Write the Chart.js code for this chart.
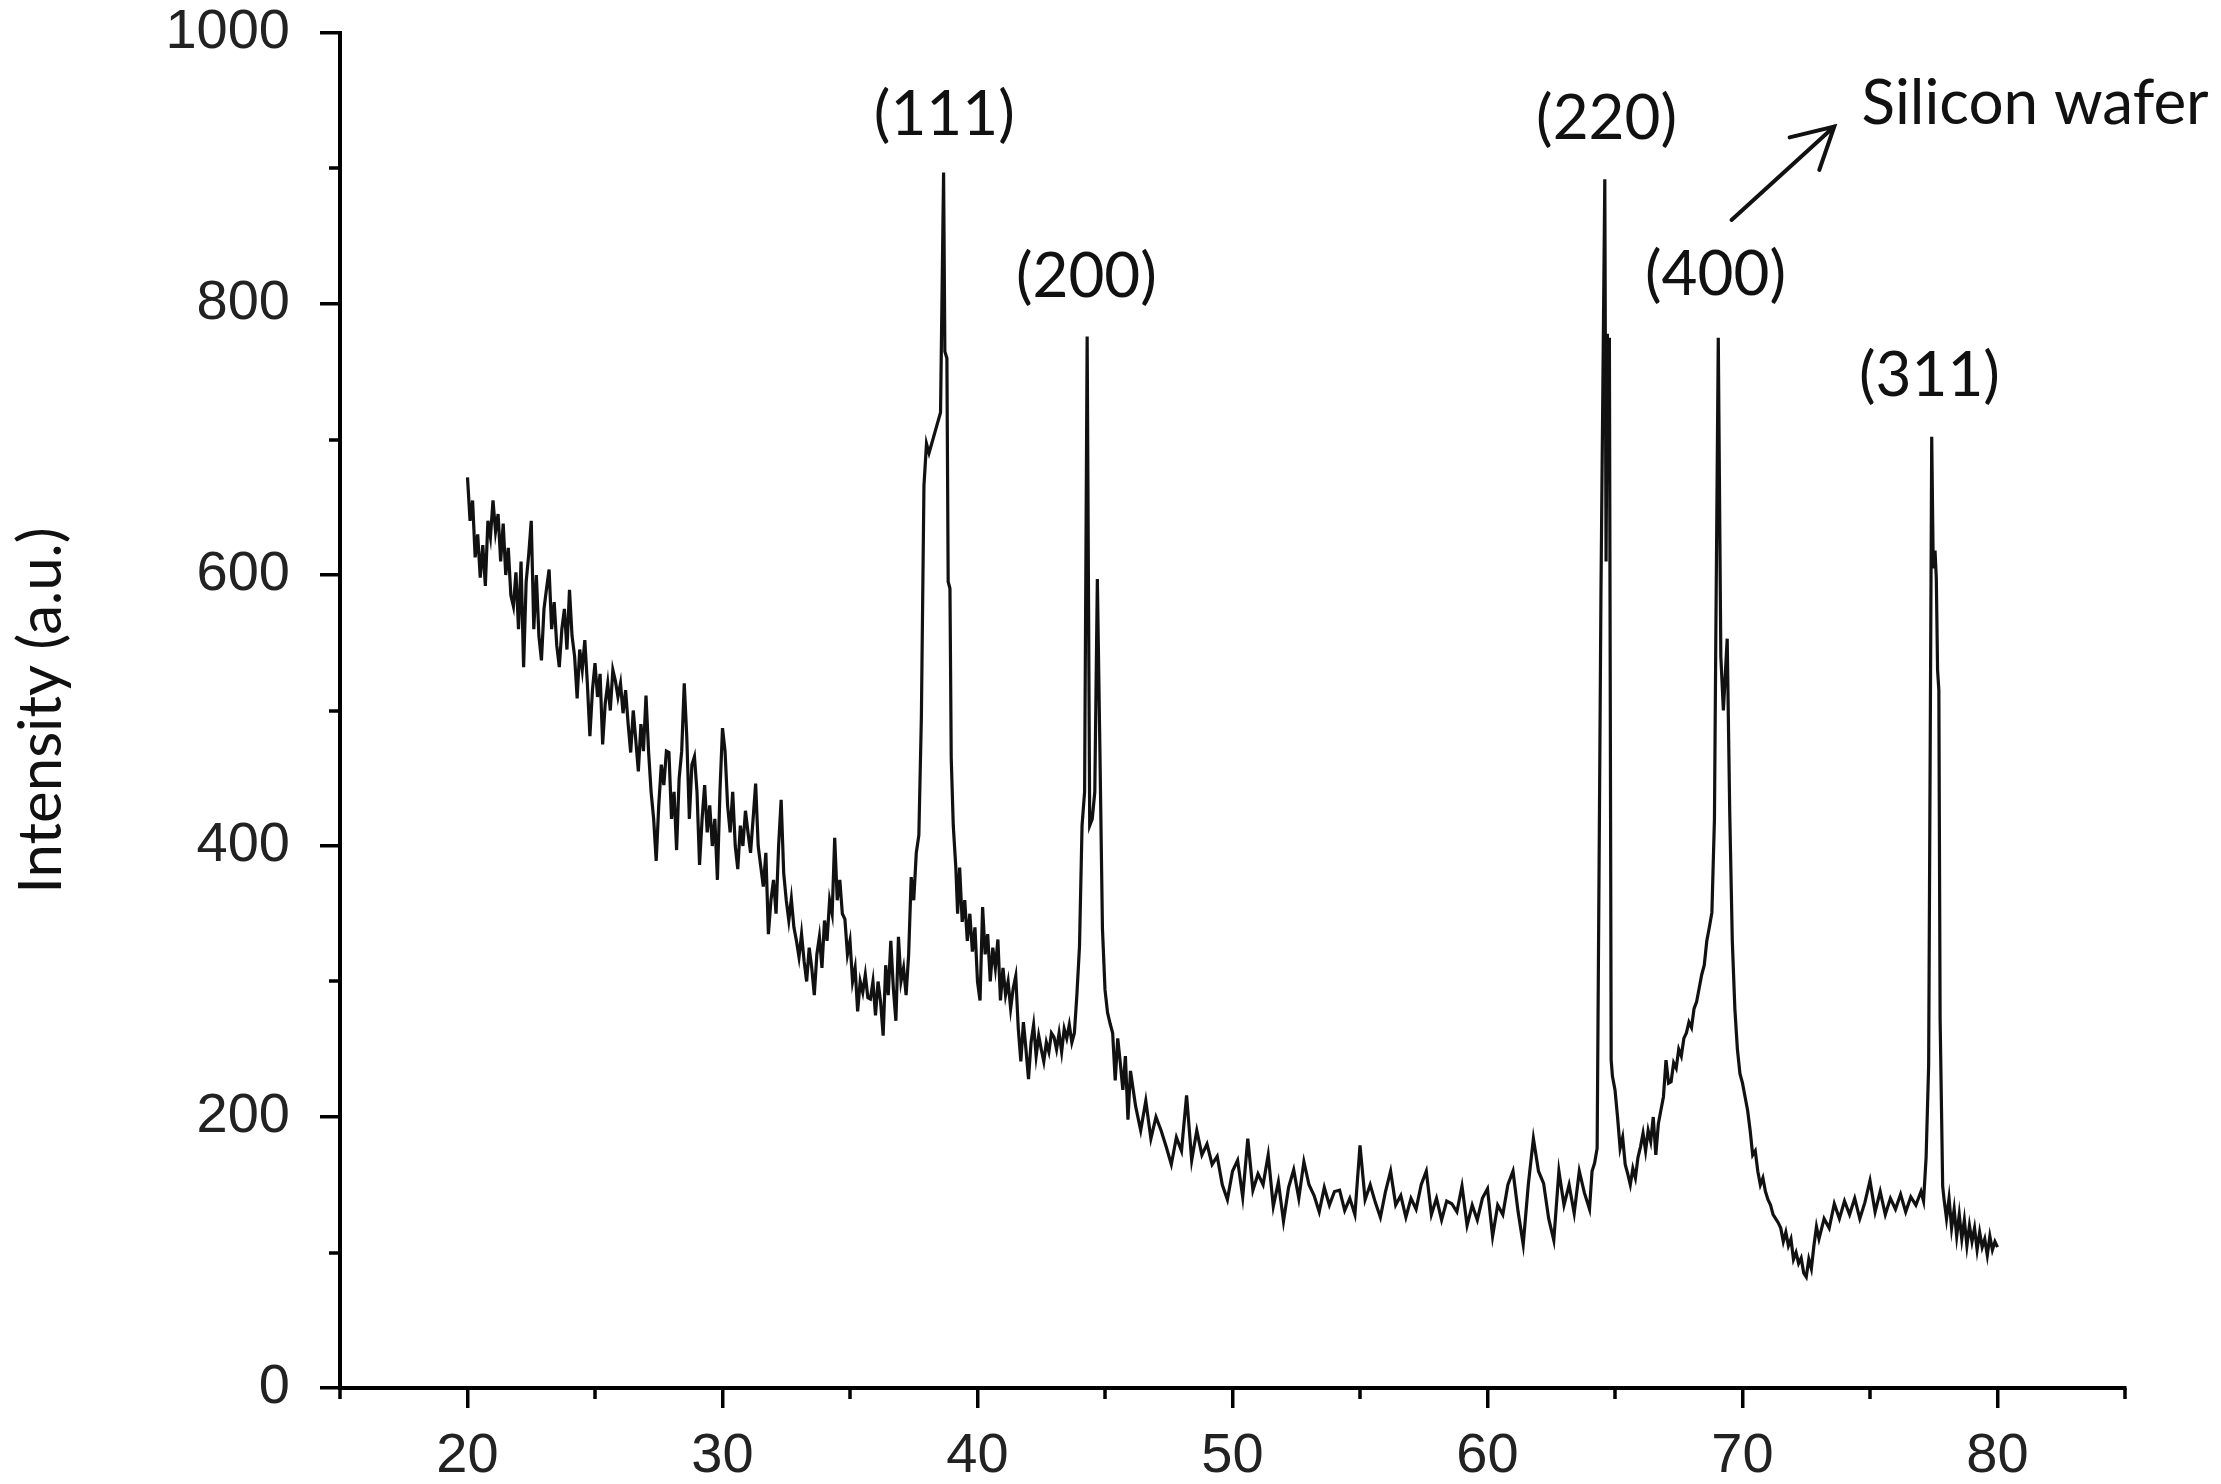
<!DOCTYPE html>
<html>
<head>
<meta charset="utf-8">
<script src="https://cdn.jsdelivr.net/npm/chart.js@4.4.1/dist/chart.umd.min.js"></script>
<style>
  html, body { margin: 0; padding: 0; background: #fff; }
</style>
</head>
<body>
<canvas id="xrdChart" width="2221" height="1484"></canvas>
<script>
// 2-theta (deg) of the scan
const twoTheta = [
  20.0,20.1,20.2,20.3,20.4,20.5,20.6,20.7,20.8,20.9,
  21.0,21.1,21.2,21.3,21.4,21.5,21.6,21.7,21.8,21.9,
  22.0,22.1,22.2,22.3,22.4,22.5,22.6,22.7,22.8,22.9,
  23.0,23.1,23.2,23.3,23.4,23.5,23.6,23.7,23.8,23.9,
  24.0,24.1,24.2,24.3,24.4,24.5,24.6,24.7,24.8,24.9,
  25.0,25.1,25.2,25.3,25.4,25.5,25.6,25.7,25.8,25.9,
  26.0,26.1,26.2,26.3,26.4,26.5,26.6,26.7,26.8,26.9,
  27.0,27.1,27.2,27.3,27.4,27.5,27.6,27.7,27.8,27.9,
  28.0,28.1,28.2,28.3,28.4,28.5,28.6,28.7,28.8,28.9,
  29.0,29.1,29.2,29.3,29.4,29.5,29.6,29.7,29.8,29.9,
  30.0,30.1,30.2,30.3,30.4,30.5,30.6,30.7,30.8,30.9,
  31.0,31.1,31.2,31.3,31.4,31.5,31.6,31.7,31.8,31.9,
  32.0,32.1,32.2,32.3,32.4,32.5,32.6,32.7,32.8,32.9,
  33.0,33.1,33.2,33.3,33.4,33.5,33.6,33.7,33.8,33.9,
  34.0,34.1,34.2,34.3,34.4,34.5,34.6,34.7,34.8,34.9,
  35.0,35.1,35.2,35.3,35.4,35.5,35.6,35.7,35.8,35.9,
  36.0,36.1,36.2,36.3,36.4,36.5,36.6,36.7,36.8,36.9,
  37.0,37.1,37.2,37.3,37.4,37.5,37.6,37.7,37.8,37.9,
  38.0,38.1,38.55,38.67,38.72,38.8,38.85,38.92,38.97,39.05,
  39.15,39.22,39.3,39.4,39.5,39.6,39.7,39.8,39.9,40.0,
  40.1,40.2,40.3,40.4,40.5,40.6,40.7,40.8,40.9,41.0,
  41.1,41.2,41.3,41.4,41.5,41.6,41.7,41.8,41.9,42.0,
  42.1,42.2,42.3,42.4,42.5,42.6,42.7,42.8,42.9,43.0,
  43.1,43.2,43.3,43.4,43.5,43.6,43.7,43.8,43.9,44.0,
  44.1,44.2,44.3,44.4,44.5,44.6,44.7,44.8,44.9,45.0,
  45.1,45.2,45.3,45.4,45.5,45.6,45.7,45.8,45.9,46.0,
  46.2,46.4,46.6,46.8,47.0,47.2,47.4,47.6,47.8,48.0,
  48.2,48.4,48.6,48.8,49.0,49.2,49.4,49.6,49.8,50.0,
  50.2,50.4,50.6,50.8,51.0,51.2,51.4,51.6,51.8,52.0,
  52.2,52.4,52.6,52.8,53.0,53.2,53.4,53.6,53.8,54.0,
  54.2,54.4,54.6,54.8,55.0,55.2,55.4,55.6,55.8,56.0,
  56.2,56.4,56.6,56.8,57.0,57.2,57.4,57.6,57.8,58.0,
  58.2,58.4,58.6,58.8,59.0,59.2,59.4,59.6,59.8,60.0,
  60.2,60.4,60.6,60.8,61.0,61.2,61.4,61.6,61.8,62.0,
  62.2,62.4,62.6,62.8,63.0,63.2,63.4,63.6,63.8,64.0,
  64.1,64.2,64.3,64.45,64.6,64.65,64.7,64.74,64.78,64.85,
  64.9,65.0,65.1,65.2,65.3,65.4,65.5,65.6,65.7,65.8,
  65.9,66.0,66.1,66.2,66.3,66.4,66.5,66.6,66.7,66.8,
  66.9,67.0,67.1,67.2,67.3,67.4,67.5,67.6,67.7,67.8,
  67.9,68.0,68.1,68.2,68.3,68.4,68.5,68.6,68.7,68.8,
  68.9,68.95,69.05,69.15,69.25,69.4,69.5,69.6,69.7,69.8,
  69.9,70.0,70.1,70.2,70.3,70.4,70.5,70.6,70.7,70.8,
  70.9,71.0,71.1,71.2,71.3,71.4,71.5,71.6,71.7,71.8,
  71.9,72.0,72.1,72.2,72.3,72.4,72.5,72.6,72.7,72.8,
  72.9,73.0,73.2,73.4,73.6,73.8,74.0,74.2,74.4,74.6,
  74.8,75.0,75.2,75.4,75.6,75.8,76.0,76.2,76.4,76.6,
  76.8,77.0,77.1,77.2,77.3,77.42,77.48,77.55,77.6,77.65,
  77.7,77.75,77.85,77.9,78.0,78.1,78.2,78.3,78.4,78.5,
  78.6,78.7,78.8,78.9,79.0,79.1,79.2,79.3,79.4,79.5,
  79.6,79.7,79.8,79.9,80.0
];

// intensity (a.u.), same order as twoTheta
const intensity = [
  672,640,655,613,630,598,622,592,640,628,
  655,632,645,610,638,600,620,585,577,602,
  560,610,532,595,615,640,560,600,555,537,
  575,590,604,560,580,548,532,560,575,545,
  589,555,540,509,545,530,552,520,481,515,
  535,510,527,475,505,520,500,530,522,510,
  520,498,515,490,469,500,478,455,490,470,
  511,470,440,420,389,430,460,445,470,469,
  420,440,397,450,470,520,480,420,460,466,
  440,386,420,445,410,430,400,420,375,440,
  487,470,430,410,440,400,383,415,400,426,
  410,395,420,446,400,385,370,395,335,360,
  375,350,400,434,380,360,345,361,340,330,
  318,335,315,300,325,310,290,320,333,310,
  345,330,360,350,406,360,375,350,346,320,
  330,300,310,278,300,292,305,288,287,300,
  275,300,285,260,312,290,330,295,271,333,
  300,310,290,320,377,360,395,408,496,666,
  697,690,720,897,765,760,595,590,465,415,
  384,350,384,344,360,330,350,322,340,300,
  286,355,320,335,300,325,310,331,286,310,
  290,300,280,295,304,265,241,270,250,228,
  255,268,245,260,250,241,255,248,262,259,
  250,262,248,265,258,268,255,262,291,326,
  415,440,776,415,420,440,597,471,339,294,
  277,269,262,227,258,240,220,245,198,234,
  208,190,212,184,200,190,178,165,185,175,
  216,168,190,172,180,165,171,150,139,160,
  168,141,184,146,158,150,172,134,152,123,
  148,161,140,167,150,142,130,148,135,145,
  146,131,140,128,179,139,150,137,126,145,
  160,135,142,126,140,132,150,160,128,140,
  124,138,136,130,149,120,135,124,140,147,
  112,135,128,150,160,130,106,150,184,160,
  151,125,109,160,135,150,129,160,144,132,
  160,166,177,589,892,610,778,690,775,242,
  230,220,200,177,185,165,158,150,162,155,
  170,178,188,175,190,182,200,172,195,205,
  215,242,225,226,240,236,250,245,258,262,
  270,266,280,285,295,305,312,330,340,351,
  420,545,775,540,500,553,424,330,280,250,
  232,225,215,205,190,172,175,160,150,155,
  145,139,135,128,125,122,118,108,115,105,
  110,95,100,92,96,85,82,95,88,105,
  119,110,125,118,136,125,138,128,140,125,
  137,153,130,145,128,140,132,143,130,141,
  135,145,138,170,238,702,605,618,598,530,
  515,272,149,140,125,140,118,132,112,128,
  110,124,105,120,108,118,102,115,104,110,
  98,112,102,108,104
];

const xMajorTicks = [20, 30, 40, 50, 60, 70, 80];
const xMinorTicks = [15, 25, 35, 45, 55, 65, 75, 85];
const yMajorTicks = [0, 200, 400, 600, 800, 1000];
const yMinorTicks = [100, 300, 500, 700, 900];

const peakNames = ["(111)", "(200)", "(220)", "(400)", "(311)"];

if (twoTheta.length !== intensity.length) {
  console.error("data length mismatch", twoTheta.length, intensity.length);
}

const tickFont = "'Liberation Sans', Arial, sans-serif";
const noteFont = "Lato, 'Open Sans', sans-serif";

// peak labels, minor ticks and the silicon wafer arrow
const notes = {
  id: "notes",
  afterDraw(chart, args, opts) {
    const { ctx, scales: { x, y } } = chart;
    ctx.save();

    ctx.strokeStyle = "#000";
    ctx.lineWidth = 3.5;
    xMinorTicks.forEach((v) => {
      const px = Math.round(x.getPixelForValue(v));
      ctx.beginPath();
      ctx.moveTo(px, y.bottom);
      ctx.lineTo(px, y.bottom + opts.minorLength);
      ctx.stroke();
    });
    yMinorTicks.forEach((v) => {
      const py = Math.round(y.getPixelForValue(v));
      ctx.beginPath();
      ctx.moveTo(x.left, py);
      ctx.lineTo(x.left - opts.minorLength, py);
      ctx.stroke();
    });

    ctx.fillStyle = "#111";
    ctx.font = `${opts.fontSize}px ${noteFont}`;
    ctx.textBaseline = "alphabetic";
    ctx.textAlign = "center";
    opts.peaks.forEach((p, i) => {
      ctx.fillText(peakNames[i], x.getPixelForValue(p[0]), y.getPixelForValue(p[1]));
    });
    ctx.textAlign = "left";
    ctx.fillText("Silicon wafer", x.getPixelForValue(opts.wafer[0]), y.getPixelForValue(opts.wafer[1]));

    // arrow
    const x0 = x.getPixelForValue(opts.arrow[0]);
    const y0 = y.getPixelForValue(opts.arrow[1]);
    const x1 = x.getPixelForValue(opts.arrow[2]);
    const y1 = y.getPixelForValue(opts.arrow[3]);
    const ang = Math.atan2(y1 - y0, x1 - x0);
    ctx.strokeStyle = "#111";
    ctx.lineWidth = 4;
    ctx.lineCap = "round";
    ctx.beginPath();
    ctx.moveTo(x0, y0);
    ctx.lineTo(x1, y1);
    ctx.moveTo(x1 - 46 * Math.cos(ang - 0.5), y1 - 46 * Math.sin(ang - 0.5));
    ctx.lineTo(x1, y1);
    ctx.lineTo(x1 - 46 * Math.cos(ang + 0.5), y1 - 46 * Math.sin(ang + 0.5));
    ctx.stroke();
    ctx.restore();
  },
};

new Chart(document.getElementById("xrdChart").getContext("2d"), {
  type: "line",
  plugins: [notes],
  data: {
    datasets: [
      {
        label: "XRD",
        data: twoTheta.map((t, i) => ({ x: t, y: intensity[i] })),
        borderColor: "#111",
        borderWidth: 3.2,
        pointRadius: 0,
        tension: 0,
      },
    ],
  },
  options: {
    responsive: false,
    animation: false,
    events: [],
    layout: { padding: { top: 33, right: 96, left: 0, bottom: 0 } },
    plugins: {
      legend: { display: false },
      tooltip: { enabled: false },
      notes: {
        minorLength: 11,
        fontSize: 62,
        peaks: [
          [38.7, 925],
          [44.27, 805],
          [64.67, 922],
          [68.94, 807],
          [77.33, 732],
        ],
        wafer: [74.67, 933],
        arrow: [69.57, 862, 73.6, 931],
      },
    },
    scales: {
      x: {
        type: "linear",
        min: 15,
        max: 85,
        afterBuildTicks: (s) => {
          s.ticks = xMajorTicks.map((v) => ({ value: v }));
        },
        afterFit: (s) => {
          s.height = 96;
        },
        grid: { drawOnChartArea: false, drawTicks: true, tickLength: 20, color: "#000", lineWidth: 3.5 },
        border: { display: true, color: "#000", width: 4 },
        ticks: {
          font: { family: tickFont, size: 56 },
          color: "#222",
          padding: 15,
          maxRotation: 0,
          autoSkip: false,
          callback: (v) => String(v),
        },
      },
      y: {
        min: 0,
        max: 1000,
        afterBuildTicks: (s) => {
          s.ticks = yMajorTicks.map((v) => ({ value: v }));
        },
        afterFit: (s) => {
          s.width = 340;
          s.paddingTop = 0;
          s.paddingBottom = 0;
        },
        grid: { drawOnChartArea: false, drawTicks: true, tickLength: 20, color: "#000", lineWidth: 3.5 },
        border: { display: true, color: "#000", width: 4 },
        ticks: {
          font: { family: tickFont, size: 56 },
          color: "#222",
          padding: 30,
          autoSkip: false,
          callback: (v) => String(v),
        },
        title: {
          display: true,
          text: "Intensity (a.u.)",
          font: { family: noteFont, size: 60 },
          color: "#111",
          padding: { top: 6, bottom: 0 },
        },
      },
    },
  },
});
</script>
</body>
</html>
